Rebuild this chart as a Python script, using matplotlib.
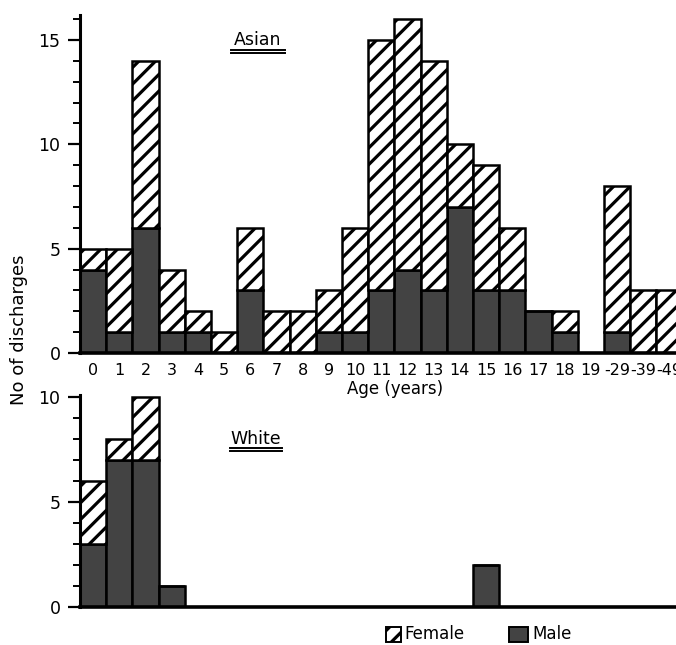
import matplotlib
matplotlib.use("Agg")
import matplotlib.pyplot as plt
from matplotlib.patches import Rectangle
import numpy as np

plt.rcParams['font.family'] = ['DejaVu Sans']
plt.rcParams['hatch.linewidth'] = 2.3

age_labels = ["0", "1", "2", "3", "4", "5", "6", "7", "8", "9", "10", "11", "12",
              "13", "14", "15", "16", "17", "18", "19", "-29", "-39", "-49"]
asian_total = [5, 5, 14, 4, 2, 1, 6, 2, 2, 3, 6, 15, 16, 14, 10, 9, 6, 2, 2, 0, 8, 3, 3]
asian_male = [4, 1, 6, 1, 1, 0, 3, 0, 0, 1, 1, 3, 4, 3, 7, 3, 3, 2, 1, 0, 1, 0, 0]
white_total = [6, 8, 10, 1, 0, 0, 0, 0, 0, 0, 0, 0, 0, 0, 0, 2, 0, 0, 0, 0, 0, 0, 0]
white_male = [3, 7, 7, 1, 0, 0, 0, 0, 0, 0, 0, 0, 0, 0, 0, 2, 0, 0, 0, 0, 0, 0, 0]

MALE_COLOR = "#434343"
W, H = 676, 645
fig = plt.figure(figsize=(W / 100, H / 100), dpi=100)


def px_axes(left, top, right, bottom):
    return fig.add_axes([left / W, 1 - bottom / H, (right - left) / W, (bottom - top) / H])


def draw(ax, total, male, ymax):
    x = np.arange(len(total))
    total = np.array(total)
    male = np.array(male)
    female = total - male
    ax.bar(x, male, width=1.0, color=MALE_COLOR, edgecolor="black", linewidth=1.8, zorder=2)
    ax.bar(x, female, bottom=male, width=1.0, color="white", edgecolor="black",
           hatch="//", linewidth=1.8, zorder=2)
    ax.set_xlim(-0.5, 22.25)
    ax.set_ylim(0, ymax)
    for s in ["top", "right"]:
        ax.spines[s].set_visible(False)
    ax.spines["left"].set_linewidth(2.2)
    ax.spines["bottom"].set_linewidth(2.6)
    ax.tick_params(axis="y", which="major", length=9, width=1.6, labelsize=12.5, pad=5)
    ax.tick_params(axis="y", which="minor", length=5, width=1.4)
    ax.yaxis.set_minor_locator(plt.MultipleLocator(1))
    ax.set_yticks([v for v in [0, 5, 10, 15] if v <= ymax])


# Top: Asian
ax1 = px_axes(80, 15, 676, 353)
draw(ax1, asian_total, asian_male, 16.2)
ax1.set_xticks(np.arange(len(age_labels)))
ax1.set_xticklabels(age_labels, fontsize=11.5)
ax1.tick_params(axis="x", length=0, pad=7)
fig.text(258 / W, 1 - 40 / H, "Asian", fontsize=12.5, ha="center", va="center")
fig.add_artist(plt.Line2D([231 / W, 285 / W], [1 - 50 / H, 1 - 50 / H], color="black", lw=1.4))
fig.add_artist(plt.Line2D([231 / W, 285 / W], [1 - 53 / H, 1 - 53 / H], color="black", lw=1.4))
fig.text(395 / W, 1 - 389 / H, "Age (years)", fontsize=12, ha="center", va="center")

# Bottom: White
ax2 = px_axes(80, 395, 676, 607)
draw(ax2, white_total, white_male, 10.1)
ax2.set_xticks([])
fig.text(256 / W, 1 - 439 / H, "White", fontsize=12.5, ha="center", va="center")
fig.add_artist(plt.Line2D([230 / W, 282 / W], [1 - 448 / H, 1 - 448 / H], color="black", lw=1.4))
fig.add_artist(plt.Line2D([230 / W, 282 / W], [1 - 451 / H, 1 - 451 / H], color="black", lw=1.4))

# y label
fig.text(19 / W, 1 - 330 / H, "No of discharges", fontsize=13, rotation=90,
         ha="center", va="center")

# Legend
fig.add_artist(Rectangle((386 / W, 1 - 642 / H), 15 / W, 15 / H, transform=fig.transFigure,
                         facecolor="white", edgecolor="black", hatch="//", lw=1.4))
fig.text(404 / W, 1 - 634 / H, "Female", fontsize=12, ha="left", va="center")
fig.add_artist(Rectangle((509 / W, 1 - 642 / H), 19 / W, 15 / H, transform=fig.transFigure,
                         facecolor=MALE_COLOR, edgecolor="black", lw=1.4))
fig.text(532 / W, 1 - 634 / H, "Male", fontsize=12, ha="left", va="center")

fig.savefig("out.png", dpi=100)
